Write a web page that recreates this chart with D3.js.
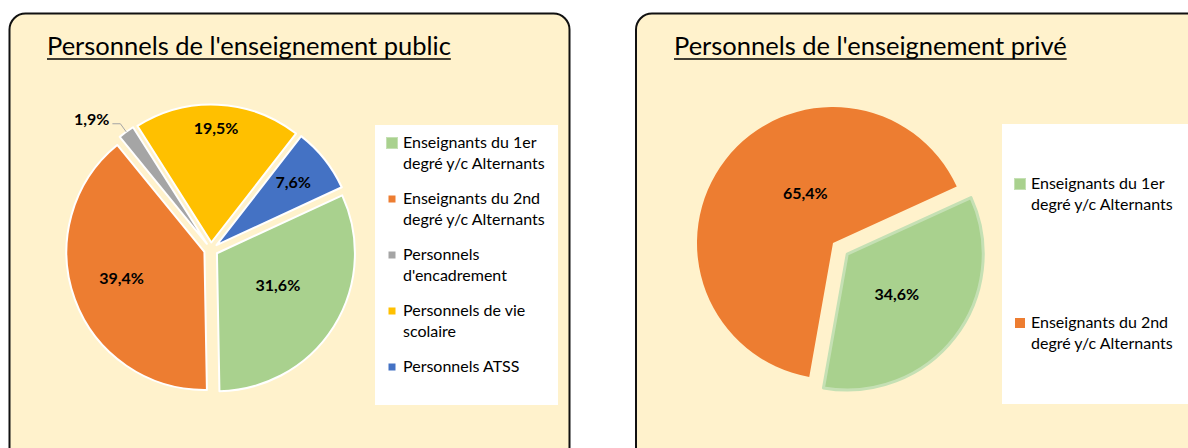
<!DOCTYPE html>
<meta charset="utf-8">
<style>
body { margin: 0; background: #fff; }
svg { display: block; }
.panel-title { font: 25.5px Lato, sans-serif; fill: #000; }
.legend text { font: 16px Lato, sans-serif; fill: #000; }
.slice-label { font: bold 16px Lato, sans-serif; fill: #000; text-anchor: middle; }
</style>
<svg width="1188" height="448"></svg>
<script src="https://cdn.jsdelivr.net/npm/d3@7"></script>
<script>

// données (en %)
var publicTitle = "Personnels de l'enseignement public";
var publicCategories = [
  ["Enseignants du 1er", "degré y/c Alternants"],
  ["Enseignants du 2nd", "degré y/c Alternants"],
  ["Personnels", "d'encadrement"],
  ["Personnels de vie", "scolaire"],
  ["Personnels ATSS"]
];
var publicValues = [31.6, 39.4, 1.9, 19.5, 7.6];

var priveTitle = "Personnels de l'enseignement privé";
var priveCategories = [
  ["Enseignants du 1er", "degré y/c Alternants"],
  ["Enseignants du 2nd", "degré y/c Alternants"]
];
var priveValues = [34.6, 65.4];

var colors = ["#A9D18E", "#ED7D31", "#A5A5A5", "#FFC000", "#4472C4"];

var svg = d3.select("svg");
var deg = Math.PI / 180;

var fmt = function(v) { return d3.format(".1f")(v).replace(".", ",") + "%"; };

function drawPanel(o) {
  var g = svg.append("g");

  // cadre arrondi
  g.append("rect")
      .attr("x", o.box[0]).attr("y", o.box[1])
      .attr("width", o.box[2]).attr("height", o.box[3])
      .attr("rx", 16)
      .attr("fill", "#FFF2CC")
      .attr("stroke", "#111")
      .attr("stroke-width", 2);

  // titre souligné
  var t = g.append("text")
      .attr("class", "panel-title")
      .attr("x", o.title[0]).attr("y", o.title[1])
      .text(o.text);
  var tw = t.node().getComputedTextLength();
  g.append("line")
      .attr("x1", o.title[0]).attr("x2", o.title[0] + tw)
      .attr("y1", o.title[1] + 4).attr("y2", o.title[1] + 4)
      .attr("stroke", "#000").attr("stroke-width", 1.5);

  var pie = d3.pie().sort(null)
      .startAngle(o.start * deg)
      .endAngle(o.start * deg + 2 * Math.PI);
  var arcs = pie(o.values);
  var arc = d3.arc().innerRadius(0).outerRadius(o.r);

  var slice = g.append("g")
      .attr("transform", "translate(" + o.cx + "," + o.cy + ")")
    .selectAll("g")
    .data(arcs)
    .enter().append("g")
      .attr("transform", function(d, i) {
        var m = (d.startAngle + d.endAngle) / 2, e = o.explode[i];
        return "translate(" + (e * Math.sin(m)) + "," + (-e * Math.cos(m)) + ")";
      });

  slice.append("path")
      .attr("d", arc)
      .attr("fill", function(d, i) { return colors[i]; })
      .attr("stroke", function(d, i) { return o.stroke[i]; })
      .attr("stroke-width", function(d, i) { return o.strokeWidth[i]; })
      .attr("stroke-linejoin", "round");

  slice.each(function(d, i) {
    var s = d3.select(this), p = o.labels[i];
    var m = (d.startAngle + d.endAngle) / 2;
    if (p.outside) {
      var x0 = o.r * Math.sin(m), y0 = -o.r * Math.cos(m);
      var x1 = (o.r + 10) * Math.sin(m), y1 = -(o.r + 10) * Math.cos(m);
      s.append("polyline")
          .attr("points", [[x0, y0], [x1, y1], [x1 - 8, y1]].join(" "))
          .attr("fill", "none")
          .attr("stroke", "#A5A5A5")
          .attr("stroke-width", 1);
      s.append("text")
          .attr("class", "slice-label")
          .style("text-anchor", "end")
          .attr("x", x1 - 11).attr("y", y1 - 4)
          .attr("dy", "0.35em")
          .text(fmt(d.data));
    } else {
      var a = m + p.da * deg, rr = o.r * p.rf;
      s.append("text")
          .attr("class", "slice-label")
          .attr("x", rr * Math.sin(a)).attr("y", -rr * Math.cos(a))
          .attr("dy", "0.35em")
          .text(fmt(d.data));
    }
  });

  // légende
  var lg = g.append("g").attr("class", "legend");
  lg.append("rect")
      .attr("x", o.legend[0]).attr("y", o.legend[1])
      .attr("width", o.legend[2]).attr("height", o.legend[3])
      .attr("fill", "#fff");

  var item = lg.selectAll("g")
    .data(o.categories)
    .enter().append("g")
      .attr("transform", function(d, i) {
        return "translate(" + o.legendItem[0] + "," + (o.legendItem[1] + i * o.legendItem[2]) + ")";
      });

  item.append("rect")
      .attr("x", function(d, i) { return 10 - o.marker[i] / 2; })
      .attr("y", function(d, i) { return -5 - o.marker[i] / 2; })
      .attr("width", function(d, i) { return o.marker[i]; })
      .attr("height", function(d, i) { return o.marker[i]; })
      .attr("fill", function(d, i) { return colors[i]; })
      .attr("stroke", function(d, i) { return i === 0 ? "#C5E0B4" : "none"; })
      .attr("stroke-width", 1);

  item.append("text")
      .attr("x", 21)
    .selectAll("tspan")
    .data(function(d) { return d; })
    .enter().append("tspan")
      .attr("x", 21)
      .attr("y", function(d, j) { return j * 20.5; })
      .text(function(d) { return d; });
}

drawPanel({
  text: publicTitle,
  values: publicValues,
  categories: publicCategories,
  box: [9.5, 13.5, 560, 450],
  title: [47, 55],
  cx: 211, cy: 249.5, r: 138, start: 65.2,
  explode: [7, 7, 7, 7, 7],
  stroke: ["#fff", "#fff", "#fff", "#fff", "#fff"],
  strokeWidth: [2, 2, 2, 2, 2],
  labels: [
    {rf: 0.5, da: -4.2},
    {rf: 0.63, da: 2.7},
    {outside: true},
    {rf: 0.83, da: -0.4},
    {rf: 0.72, da: -0.9}
  ],
  legend: [375, 125, 183, 280],
  legendItem: [382, 148, 56],
  marker: [11, 7, 7, 7, 7]
});

drawPanel({
  text: priveTitle,
  values: priveValues,
  categories: priveCategories,
  box: [636, 13.5, 600, 450],
  title: [674, 55],
  cx: 833, cy: 243, r: 136, start: 65.5,
  explode: [18, 0],
  stroke: ["#C5E0B4", "none"],
  strokeWidth: [3, 0],
  labels: [
    {rf: 0.47, da: 1.4},
    {rf: 0.42, da: 23.2}
  ],
  legend: [1002, 124, 200, 280],
  legendItem: [1010, 189, 139],
  marker: [11, 10]
});

</script>
